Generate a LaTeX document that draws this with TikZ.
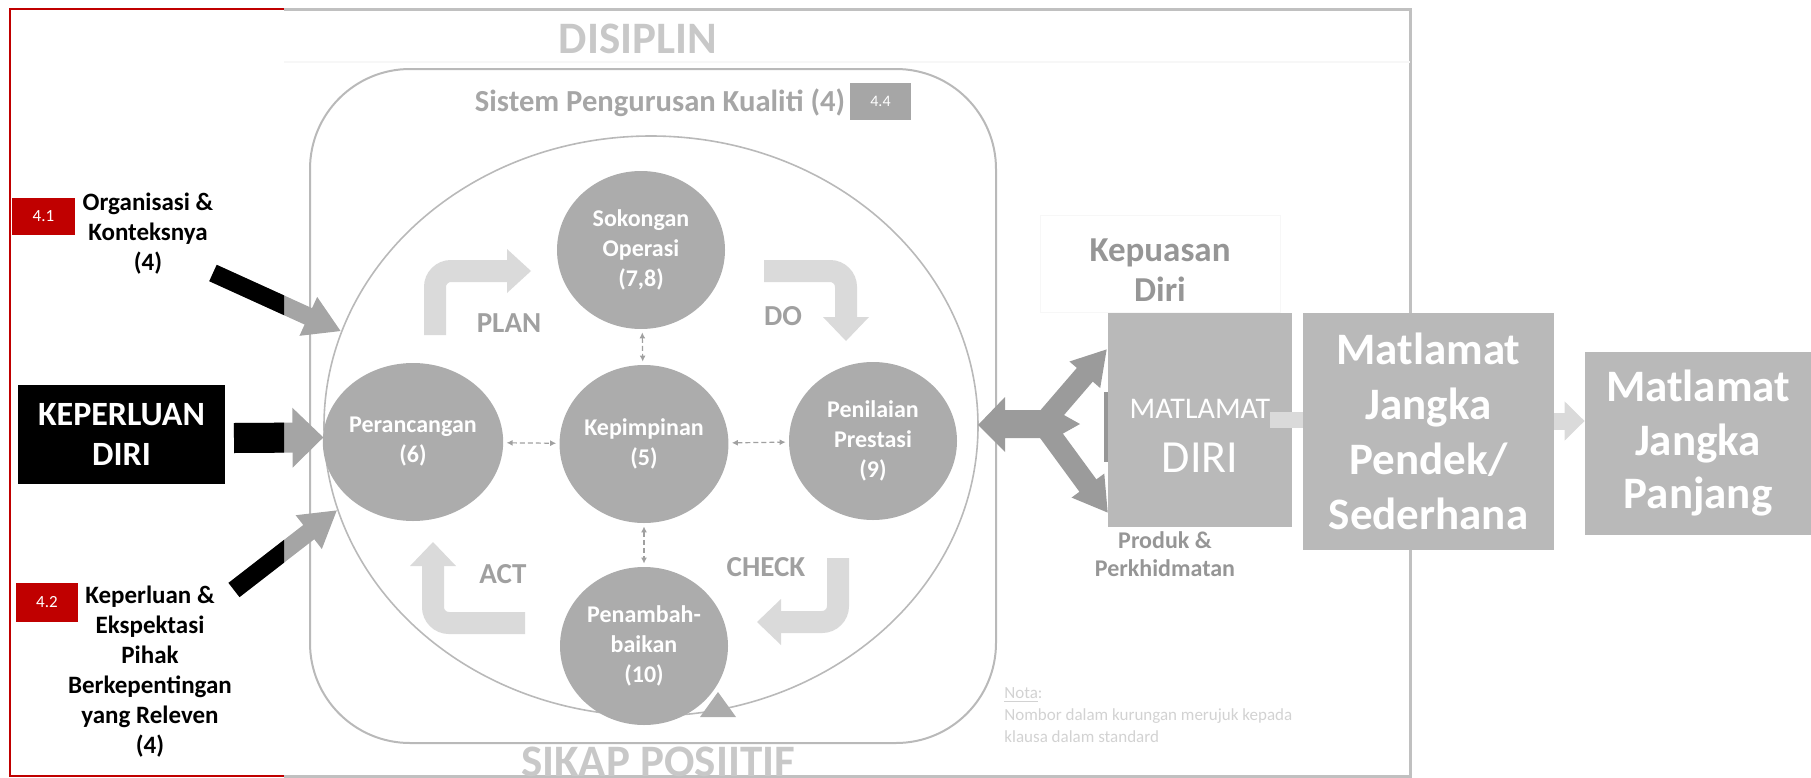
\documentclass[tikz,border=0pt]{standalone}
\usepackage{fontspec}
\setmainfont{Carlito}
\usetikzlibrary{shapes.geometric,arrows.meta}
\definecolor{cRed}{RGB}{192,0,0}
\definecolor{cFrame}{RGB}{192,192,192}
\definecolor{cBig}{RGB}{200,200,200}
\definecolor{cCirc}{RGB}{172,172,172}
\definecolor{cPdca}{RGB}{218,218,218}
\definecolor{cPdcaTxt}{RGB}{160,160,160}
\definecolor{cDash}{RGB}{160,160,160}
\definecolor{cTitle}{RGB}{166,166,166}
\definecolor{cLine}{RGB}{185,185,185}
\definecolor{cIn}{RGB}{165,165,165}
\definecolor{cArr}{RGB}{155,155,155}
\definecolor{cBox}{RGB}{185,185,185}
\definecolor{cSide}{RGB}{150,150,150}
\definecolor{cNota}{RGB}{210,210,210}
\definecolor{cFaint}{RGB}{247,247,247}
\newcommand\myfs[2]{\fontsize{#1}{#2}\selectfont}
\begin{document}
\begin{tikzpicture}[x=0.5pt,y=-0.5pt,
 circ/.style={ellipse, fill=cCirc, minimum width=84pt, minimum height=79pt, inner sep=0pt, text=white, font=\myfs{12}{15}\bfseries, align=center},
 dasharr/.style={draw=cDash, line width=0.6pt, dash pattern=on 2.5pt off 1.5pt, {Latex[length=3pt,width=3pt]}-{Latex[length=3pt,width=3pt]}, shorten <=1.5pt, shorten >=1.5pt},
 pdcashaft/.style={draw=cPdca, line width=11pt, rounded corners=8pt},
 pdcahead/.style={fill=cPdca},
 pdcalbl/.style={text=cPdcaTxt, font=\myfs{14.5}{17}\bfseries},
 inlbl/.style={font=\myfs{12.5}{15}\bfseries, align=center, text=black},
 numbox/.style={fill=cRed, text=white, font=\myfs{8.5}{10}, inner sep=0pt},
 inarr/.style={line width=9pt, -{Triangle[width=20pt,length=18pt]}},
 bigarr/.style={line width=15pt, -{Triangle[width=29pt,length=15.5pt]}},
 gbox/.style={fill=cBox, inner sep=0pt},
 gboxtxt/.style={text=white, font=\myfs{22.5}{27.5}\bfseries, align=center},
 sidetxt/.style={text=cSide, font=\myfs{12}{14}\bfseries, align=center},
]
\useasboundingbox (0,0) rectangle (1811,777);
% frame
\draw[cRed, line width=1.2pt] (284,9) -- (10,9) -- (10,776) -- (284,776);
\draw[cFrame, line width=1.5pt] (284,9) -- (1410,9) -- (1410,776) -- (284,776);
\draw[cFaint, line width=1pt] (284,62) -- (1410,62);
% titles
\node[anchor=base, text=cBig, font=\myfs{22.5}{25}\bfseries] (dis) at (638,53) {DISIPLIN};
\draw[cLine, line width=1pt, rounded corners=50pt] (310,69) rectangle (996,743);
\node[anchor=base, text=cTitle, font=\myfs{15.3}{17}\bfseries] (spk) at (660,111) {Sistem Pengurusan Kualiti (4)};
\node[fill=cTitle, text=white, font=\myfs{8}{10}, minimum width=30.5pt, minimum height=18.5pt, inner sep=0pt] (b44) at (880.5,101.5) {4.4};
\node[anchor=base, text=cBig, font=\myfs{22.5}{25}\bfseries] (sikap) at (658,776) {SIKAP POSIITIF};
% big cycle
\node[ellipse, draw=cLine, line width=0.8pt, minimum width=327pt, minimum height=290pt, inner sep=0pt] (pdca) at (651,426) {};
% circles
\node[circ] (soko) at (641,250) {Sokongan\\Operasi\\(7,8)};
\node[circ] (kepi) at (644,444) {Kepimpinan\\(5)};
\node[circ] (pera) at (413,442) {Perancangan\\(6)};
\node[circ] (peni) at (873,441) {Penilaian\\Prestasi\\(9)};
\node[circ] (pena) at (644,646) {Penambah-\\baikan\\(10)};
\fill[cCirc] (700,717) -- (736,717) -- (718,692) -- cycle;
\draw[dasharr] (pera) -- (kepi);
\draw[dasharr] (kepi) -- (peni);
\draw[dasharr] (soko) -- (kepi);
\draw[dasharr] (kepi) -- (pena);
% PDCA arrows
\draw[pdcashaft] (435,335) -- (435,271) -- (508,271);
\fill[pdcahead] (507,249) -- (531,271) -- (507,293) -- cycle;
\draw[pdcashaft] (764,271) -- (846,271) -- (846,318);
\fill[pdcahead] (823,317) -- (846,341) -- (869,317) -- cycle;
\draw[pdcashaft] (838,558) -- (838,622) -- (780,622);
\fill[pdcahead] (781,599) -- (757,622) -- (781,645) -- cycle;
\draw[pdcashaft] (525,623) -- (433,623) -- (433,565);
\fill[pdcahead] (410,566) -- (433,542) -- (456,566) -- cycle;
\node[pdcalbl] (plan) at (509,323) {PLAN};
\node[pdcalbl] (do) at (783,316) {DO};
\node[pdcalbl] (act) at (503,574) {ACT};
\node[pdcalbl] (check) at (766,567) {CHECK};
% left inputs
\node[numbox, minimum width=31.5pt, minimum height=18.5pt] (b41) at (43.5,216.5) {4.1};
\node[inlbl] (org) at (148,234) {Organisasi \&\\Konteksnya\\(4)};
\node[fill=black, text=white, font=\myfs{17}{20}\bfseries, align=center, minimum width=103.5pt, minimum height=49.5pt, inner sep=0pt] (kd) at (121.5,434.5) {KEPERLUAN\\DIRI};
\node[numbox, minimum width=31pt, minimum height=19.5pt] (b42) at (47,602.5) {4.2};
\node[inlbl] (kep) at (150,672) {Keperluan \&\\Ekspektasi\\Pihak\\Berkepentingan\\yang Releven\\(4)};
\coordinate (s1) at (213,273);
\coordinate (s2) at (234,438);
\coordinate (s3) at (234,590);
\draw[inarr, cIn] (s1) -- (pdca.163);
\draw[bigarr, cIn] (s2) -- (pdca.182);
\draw[inarr, cIn] (s3) -- (pdca.195);
\begin{scope}
\clip (0,0) rectangle (284,777);
\draw[inarr, black] (s1) -- (pdca.163);
\draw[bigarr, black] (s2) -- (pdca.182);
\draw[inarr, black] (s3) -- (pdca.195);
\end{scope}
% right side
\fill[cArr] (978,425) -- (1005,397) -- (1005,410) -- (1055,410) -- (1080,424) -- (1055,438) -- (1005,438) -- (1005,452) -- cycle;
\draw[cArr, line width=10.5pt, -{Triangle[width=19pt,length=17pt]}] (1045,421) -- (1107,349);
\draw[cArr, line width=10.5pt, -{Triangle[width=19pt,length=17pt]}] (1045,427) -- (1108,513);
\fill[cSide] (1104,392) rectangle (1110,462);
\draw[cFaint, line width=0.5pt] (1040,215) rectangle (1280,312);
\node[text=cSide, font=\myfs{17.5}{20}\bfseries, align=center] (kepuasan) at (1160,270) {Kepuasan\\Diri};
\node[gbox, minimum width=92pt, minimum height=107pt] (md) at (1200,420) {};
\node[text=white, font=\myfs{15}{16}] (mdt1) at (1200,409) {MATLAMAT};
\node[text=white, font=\myfs{23}{26}] (mdt2) at (1200,458) {DIRI};
\node[gbox, gboxtxt, minimum width=125.5pt, minimum height=118.5pt] (mjp) at (1428.5,431.5) {Matlamat\\Jangka\\Pendek/\\Sederhana};
\node[gbox, gboxtxt, minimum width=113pt, minimum height=91.5pt, font=\myfs{22.5}{26.75}\bfseries] (mjl) at (1698,443.5) {Matlamat\\Jangka\\Panjang};
\coordinate (mdout) at (1270,420);
\draw[cPdca, line width=8pt] (mdout) -- (mdout -| mjp.west);
\coordinate (yc) at (1560,421);
\draw[cPdca, line width=8.5pt, -{Triangle[width=19pt,length=10pt]}] (yc -| mjp.east) -- (yc -| mjl.west);
\node[sidetxt] (produk) at (1165,554) {Produk \&\\Perkhidmatan};
\node[anchor=north west, text=cNota, font=\myfs{8.5}{11}, align=left, inner sep=0pt] (nota) at (1004,687) {\underline{Nota}:\\Nombor dalam kurungan merujuk kepada\\klausa dalam standard};
\end{tikzpicture}
\end{document}
